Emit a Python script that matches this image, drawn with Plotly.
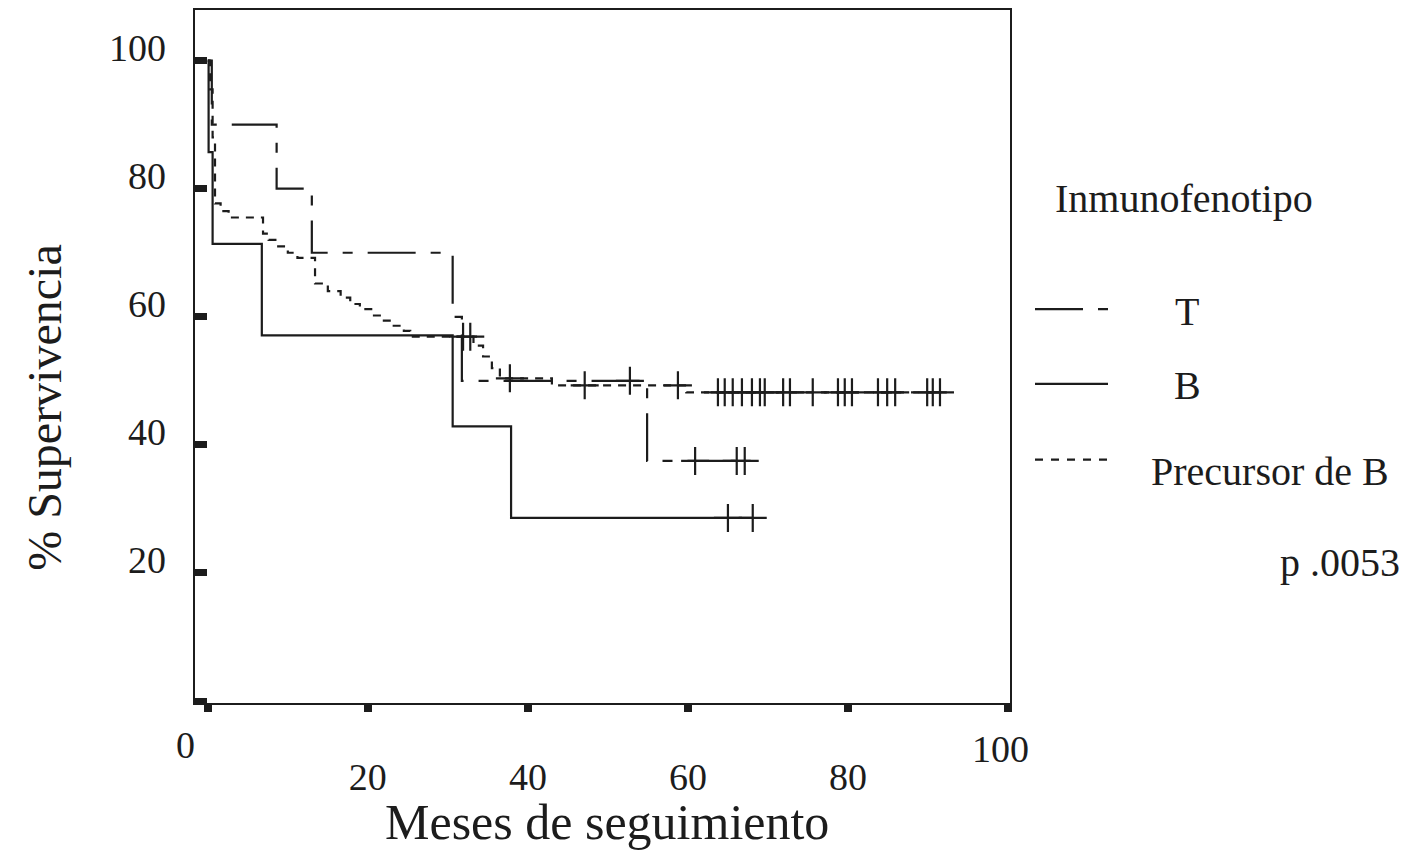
import plotly.graph_objects as go

# ---------------- data ----------------
# T immunophenotype (Kaplan-Meier steps)
t_T = [0, 0.5, 8.6, 13.0, 30.6, 31.75, 54.9]
s_T = [100, 90, 80, 70, 60, 50, 37.5]
cens_T_t = [52.75, 60.9, 66.1, 67.1]
cens_T_s = [50, 37.5, 37.5, 37.5]

# B immunophenotype
t_B = [0, 0.1, 0.6, 6.75, 30.6, 37.9]
s_B = [100, 85.7, 71.4, 57.1, 42.9, 28.6]
cens_B_t = [65.0, 68.1]
cens_B_s = [28.6, 28.6]

# Precursor de B
t_P = [0, 0.3, 0.6, 0.9, 1.6, 2.6, 6.9, 7.6, 8.8, 10.0, 11.2, 13.4, 15.0, 16.6,
       17.8, 19.0, 20.6, 21.8, 23.0, 24.5, 25.3, 33.2, 34.4, 35.5, 36.5, 43.0, 59.8]
s_P = [100, 95.5, 88, 77.7, 76.5, 75.5, 73.0, 72.0, 71.0, 70.0, 69.2, 65.2, 64.0, 63.0,
       62.0, 61.2, 60.2, 59.4, 58.6, 57.8, 56.9, 55.5, 53.8, 52.0, 50.4, 49.3, 48.2]
cens_P_t = [31.9, 32.8, 37.75, 47.1, 58.75, 63.75, 64.6, 65.6, 66.75, 68.0, 69.0, 69.6,
            71.9, 72.75, 75.6, 78.75, 79.6, 80.5, 83.75, 84.9, 85.9, 89.9, 90.6, 91.5]
cens_P_s = [56.9, 56.9, 50.4, 49.3, 49.3] + [48.2] * 19

series_names = ["T", "B", "Precursor de B"]
x_ticks = [0, 20, 40, 60, 80, 100]
x_ticktext = ["0", "20", "40", "60", "80", "100"]
y_ticks = [0, 20, 40, 60, 80, 100]
y_ticktext = ["", "20", "40", "60", "80", "100"]

legend_title = "Inmunofenotipo"
p_text = "p .0053"
x_title = "Meses de seguimiento"
y_title = "% Supervivencia"

# ---------------- figure ----------------
INK = "#1c1c1c"
SERIF = "Liberation Serif, Times New Roman, serif"
dash_T = "48px,15px,10px,15px"
dash_P = "8px,7px"

fig = go.Figure()

def add_series(t, s, ct, cs, name, dash):
    xs = list(t) + [ct[-1] if ct[-1] > t[-1] else t[-1]]
    ys = list(s) + [s[-1]]
    fig.add_trace(go.Scatter(x=xs, y=ys, mode="lines", line_shape="hv",
                             line=dict(color=INK, width=2.2, dash=dash),
                             name=name, showlegend=False, hoverinfo="skip"))
    fig.add_trace(go.Scatter(x=ct, y=cs, mode="markers",
                             marker=dict(symbol="cross-thin", size=20,
                                         line=dict(color=INK, width=2.2)),
                             name=name + " (censurado)", showlegend=False,
                             hoverinfo="skip"))

add_series(t_B, s_B, cens_B_t, cens_B_s, series_names[1], "solid")
add_series(t_T, s_T, cens_T_t, cens_T_s, series_names[0], dash_T)
add_series(t_P, s_P, cens_P_t, cens_P_s, series_names[2], dash_P)

# plot area in pixels
L, R, T, B = 195, 1010, 8, 703
W, H = R - L, B - T

def px(x):
    return (x - L) / W

def py(y):
    return (B - y) / H

fig.update_layout(
    width=1407, height=855,
    margin=dict(l=L, r=1407 - R, t=T, b=855 - B),
    paper_bgcolor="white", plot_bgcolor="white",
    font=dict(family=SERIF, color=INK, size=38),
    showlegend=False,
)

# x axis: labels 20..80 on the axis itself, 0 and 100 placed by annotation (higher in the original)
fig.update_xaxes(range=[-1.6, 100.25], showgrid=False, zeroline=False,
                 showline=True, linecolor=INK, linewidth=2, mirror=True,
                 tickmode="array", tickvals=x_ticks,
                 ticktext=[""] + x_ticktext[1:-1] + [""],
                 ticks="outside", ticklen=7, tickwidth=8, tickcolor=INK,
                 ticklabelstandoff=32,
                 tickfont=dict(family=SERIF, size=38, color=INK))
fig.update_yaxes(range=[-0.3, 107.9], showgrid=False, zeroline=False,
                 showline=True, linecolor=INK, linewidth=2, mirror=True,
                 tickmode="array", tickvals=y_ticks, ticktext=[""] * len(y_ticks),
                 ticks="inside", ticklen=12, tickwidth=7, tickcolor=INK)

ann = []
# y tick labels (drawn slightly above their tick marks, as in the original)
for v, txt in zip(y_ticks, y_ticktext):
    if txt:
        ann.append(dict(text=txt, x=px(168), y=v, xref="paper", yref="y",
                        xanchor="right", yanchor="middle", yshift=13,
                        showarrow=False, font=dict(size=38)))
# origin and 100 labels on x
ann.append(dict(text=x_ticktext[0], x=px(185), y=py(745), xref="paper", yref="paper",
                xanchor="center", yanchor="middle", showarrow=False, font=dict(size=38)))
ann.append(dict(text=x_ticktext[-1], x=px(1000), y=py(749), xref="paper", yref="paper",
                xanchor="center", yanchor="middle", showarrow=False, font=dict(size=38)))
# axis titles
ann.append(dict(text=x_title, x=px(607), y=py(822), xref="paper", yref="paper",
                xanchor="center", yanchor="middle", showarrow=False, font=dict(size=50)))
ann.append(dict(text=y_title, x=px(45), y=py(407), xref="paper", yref="paper",
                xanchor="center", yanchor="middle", showarrow=False, textangle=-90,
                font=dict(size=48)))
# legend texts
ann.append(dict(text=legend_title, x=px(1053), y=py(197), xref="paper", yref="paper",
                xanchor="left", yanchor="middle", showarrow=False, font=dict(size=40)))
ann.append(dict(text=series_names[0], x=px(1187), y=py(310), xref="paper", yref="paper",
                xanchor="center", yanchor="middle", showarrow=False, font=dict(size=40)))
ann.append(dict(text=series_names[1], x=px(1187), y=py(385), xref="paper", yref="paper",
                xanchor="center", yanchor="middle", showarrow=False, font=dict(size=40)))
ann.append(dict(text=series_names[2], x=px(1149), y=py(471), xref="paper", yref="paper",
                xanchor="left", yanchor="middle", showarrow=False, font=dict(size=40)))
ann.append(dict(text=p_text, x=px(1278), y=py(562), xref="paper", yref="paper",
                xanchor="left", yanchor="middle", showarrow=False, font=dict(size=40)))
fig.update_layout(annotations=ann)

# legend line samples
for yy, dash in [(308, "48px,15px,10px"), (383, "solid"), (459, "8px,8px")]:
    fig.add_shape(type="line", xref="paper", yref="paper",
                  x0=px(1035), x1=px(1108), y0=py(yy), y1=py(yy),
                  line=dict(color=INK, width=2.2, dash=dash))

fig.write_html("out.html")
